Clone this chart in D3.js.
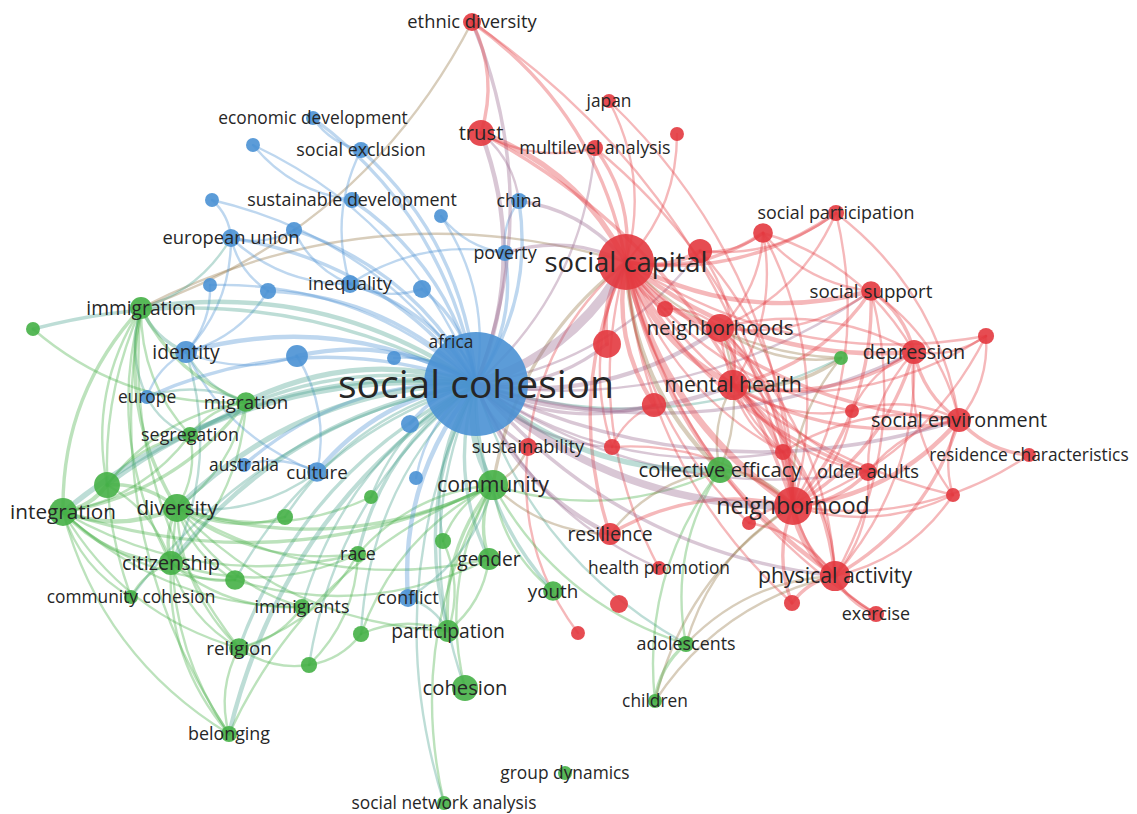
<!DOCTYPE html>
<html>
<head>
<meta charset="utf-8">
<script src="https://cdn.jsdelivr.net/npm/d3@7"></script>
<style>
  body { margin: 0; background: #fff; }
  svg { display: block; }
</style>
</head>
<body>
<div id="map"></div>
<script>
// map coordinates [id, x, y, occurrences]; ids starting with "_" carry no label
const redNodes = [
    ["ethnic diversity", 472, 22, 15], ["trust", 481, 133, 31], ["japan", 609, 101, 9],
    ["_r1", 677, 134, 9], ["multilevel analysis", 595, 148, 12], ["social capital", 626, 262, 145],
    ["_r2", 700, 251, 27], ["_r3", 763, 233, 18], ["social participation", 836, 213, 12],
    ["social support", 871, 291, 18], ["neighborhoods", 720, 328, 36], ["_r4", 665, 309, 12],
    ["_r5", 607, 344, 36], ["depression", 914, 352, 27], ["_r6", 986, 336, 12],
    ["mental health", 733, 385, 42], ["_r7", 654, 405, 27], ["_r8", 852, 411, 9],
    ["social environment", 959, 420, 27], ["residence characteristics", 1029, 455, 9],
    ["sustainability", 528, 447, 15], ["_r9", 612, 447, 12], ["_r10", 783, 452, 12],
    ["older adults", 868, 472, 15], ["neighborhood", 793, 506, 67], ["_r11", 749, 523, 9],
    ["_r12", 953, 495, 9], ["resilience", 610, 534, 22], ["health promotion", 659, 568, 9],
    ["physical activity", 835, 576, 42], ["_r13", 792, 603, 12], ["exercise", 876, 614, 12],
    ["_r14", 619, 604, 15], ["_r15", 578, 633, 9]
];

const greenNodes = [
    ["immigration", 141, 308, 22], ["_g1", 33, 329, 9], ["migration", 246, 402, 18],
    ["segregation", 190, 435, 12], ["_g2", 107, 485, 31], ["integration", 63, 512, 36],
    ["diversity", 177, 508, 36], ["_g3", 285, 517, 12], ["_g4", 371, 497, 9],
    ["community", 493, 485, 42], ["citizenship", 171, 563, 27], ["_g5", 235, 580, 18],
    ["race", 358, 554, 12], ["_g6", 443, 541, 12], ["gender", 489, 559, 22],
    ["community cohesion", 131, 597, 9], ["immigrants", 302, 607, 12], ["_g7", 361, 634, 12],
    ["participation", 448, 631, 22], ["youth", 553, 591, 18], ["religion", 239, 648, 18],
    ["_g8", 309, 665, 12], ["cohesion", 465, 688, 31], ["belonging", 229, 734, 12],
    ["group dynamics", 565, 773, 9], ["social network analysis", 444, 803, 9],
    ["collective efficacy", 720, 470, 31], ["_g9", 841, 358, 9],
    ["adolescents", 686, 644, 12], ["children", 655, 701, 9]
];

const blueNodes = [
    ["social cohesion", 476, 384, 500], ["economic development", 313, 118, 9], ["_b1", 253, 145, 9],
    ["social exclusion", 361, 150, 12], ["_b2", 212, 200, 9], ["sustainable development", 352, 200, 12],
    ["_b3", 294, 230, 12], ["european union", 231, 238, 15], ["_b4", 441, 216, 9],
    ["china", 519, 201, 12], ["poverty", 505, 253, 12], ["inequality", 350, 284, 15],
    ["_b5", 268, 291, 12], ["_b6", 210, 285, 9], ["_b7", 422, 289, 15],
    ["identity", 186, 352, 22], ["_b8", 297, 356, 22], ["africa", 451, 342, 9],
    ["_b9", 394, 358, 9], ["europe", 147, 397, 9], ["_b10", 410, 424, 15],
    ["australia", 244, 465, 9], ["culture", 317, 472, 18], ["_b11", 416, 478, 9],
    ["conflict", 408, 598, 15]
];

// co-occurrence links [source, target, strength]
const hubLinks = [
    ["social cohesion", "social capital", 8], ["social cohesion", "neighborhood", 6],
    ["social cohesion", "community", 5], ["social cohesion", "integration", 4],
    ["social cohesion", "diversity", 4], ["social cohesion", "migration", 4],
    ["social cohesion", "collective efficacy", 4], ["social cohesion", "immigration", 3],
    ["social cohesion", "identity", 3], ["social cohesion", "_b8", 3],
    ["social cohesion", "culture", 3], ["social cohesion", "conflict", 3],
    ["social cohesion", "_g2", 3], ["social cohesion", "citizenship", 3],
    ["social cohesion", "participation", 2], ["social cohesion", "belonging", 3],
    ["social cohesion", "trust", 3], ["social cohesion", "neighborhoods", 3],
    ["social cohesion", "mental health", 3], ["social cohesion", "resilience", 3],
    ["social cohesion", "inequality", 2], ["social cohesion", "european union", 2],
    ["social cohesion", "sustainable development", 2], ["social cohesion", "social exclusion", 2],
    ["social cohesion", "economic development", 2], ["social cohesion", "_b1", 1],
    ["social cohesion", "_b2", 1], ["social cohesion", "_b3", 2], ["social cohesion", "_b4", 1],
    ["social cohesion", "china", 2], ["social cohesion", "poverty", 2], ["social cohesion", "_b5", 2],
    ["social cohesion", "_b6", 1], ["social cohesion", "_b7", 2], ["social cohesion", "africa", 1],
    ["social cohesion", "_b9", 1], ["social cohesion", "europe", 2], ["social cohesion", "_b10", 2],
    ["social cohesion", "australia", 2], ["social cohesion", "_b11", 1],
    ["social cohesion", "segregation", 2], ["social cohesion", "_g1", 2], ["social cohesion", "_g3", 1],
    ["social cohesion", "_g4", 1], ["social cohesion", "_g5", 1], ["social cohesion", "race", 2],
    ["social cohesion", "_g6", 1], ["social cohesion", "gender", 2],
    ["social cohesion", "community cohesion", 1], ["social cohesion", "immigrants", 1],
    ["social cohesion", "_g7", 1], ["social cohesion", "youth", 2], ["social cohesion", "religion", 2],
    ["social cohesion", "_g8", 1], ["social cohesion", "cohesion", 1],
    ["social cohesion", "social network analysis", 1], ["social cohesion", "_g9", 1],
    ["social cohesion", "adolescents", 1], ["social cohesion", "ethnic diversity", 2],
    ["social cohesion", "_r5", 2], ["social cohesion", "_r7", 2], ["social cohesion", "sustainability", 2],
    ["social cohesion", "physical activity", 2], ["social cohesion", "depression", 2],
    ["social cohesion", "social support", 1], ["social cohesion", "social environment", 2],
    ["social cohesion", "older adults", 1], ["social cohesion", "_r9", 1], ["social cohesion", "_r10", 1],
    ["social cohesion", "_r2", 1], ["social cohesion", "multilevel analysis", 1],
    ["social cohesion", "health promotion", 1]
];

const redLinks = [
    ["social capital", "trust", 4], ["social capital", "ethnic diversity", 2], ["social capital", "japan", 1],
    ["social capital", "_r1", 1], ["social capital", "multilevel analysis", 2], ["social capital", "_r2", 3],
    ["social capital", "_r3", 2], ["social capital", "social participation", 2],
    ["social capital", "social support", 3], ["social capital", "neighborhoods", 4],
    ["social capital", "_r4", 2], ["social capital", "_r5", 3], ["social capital", "depression", 3],
    ["social capital", "_r6", 1], ["social capital", "mental health", 4], ["social capital", "_r7", 3],
    ["social capital", "_r8", 1], ["social capital", "social environment", 2],
    ["social capital", "sustainability", 1], ["social capital", "_r9", 1], ["social capital", "_r10", 1],
    ["social capital", "older adults", 2], ["social capital", "neighborhood", 5],
    ["social capital", "_r11", 1], ["social capital", "_r12", 1], ["social capital", "resilience", 2],
    ["social capital", "physical activity", 3], ["social capital", "_r13", 1],
    ["social capital", "exercise", 1], ["social capital", "china", 2], ["social capital", "poverty", 2],
    ["social capital", "collective efficacy", 3], ["social capital", "community", 2],
    ["social capital", "_g9", 1], ["social capital", "immigration", 1],
    ["social capital", "health promotion", 1],
    ["neighborhood", "neighborhoods", 3], ["neighborhood", "mental health", 3],
    ["neighborhood", "physical activity", 5], ["neighborhood", "depression", 2],
    ["neighborhood", "social environment", 3], ["neighborhood", "older adults", 2],
    ["neighborhood", "social support", 2], ["neighborhood", "_r2", 1], ["neighborhood", "_r3", 1],
    ["neighborhood", "_r10", 2], ["neighborhood", "_r11", 1], ["neighborhood", "_r12", 1],
    ["neighborhood", "_r13", 2], ["neighborhood", "exercise", 1],
    ["neighborhood", "collective efficacy", 3], ["neighborhood", "social participation", 1],
    ["neighborhood", "_r6", 1], ["neighborhood", "residence characteristics", 1],
    ["neighborhood", "_r8", 1], ["neighborhood", "adolescents", 1], ["neighborhood", "children", 1],
    ["neighborhood", "trust", 2], ["neighborhood", "ethnic diversity", 1], ["neighborhood", "japan", 1],
    ["neighborhood", "multilevel analysis", 1], ["neighborhood", "resilience", 2],
    ["neighborhood", "_r9", 1],
    ["physical activity", "exercise", 2], ["physical activity", "_r13", 2],
    ["physical activity", "mental health", 2], ["physical activity", "neighborhoods", 1],
    ["physical activity", "older adults", 1], ["physical activity", "social environment", 2],
    ["physical activity", "depression", 1], ["physical activity", "_r11", 1],
    ["physical activity", "adolescents", 1], ["physical activity", "children", 1],
    ["physical activity", "_r10", 1], ["physical activity", "_r12", 1],
    ["physical activity", "social support", 1],
    ["mental health", "depression", 2], ["mental health", "social support", 2],
    ["mental health", "social environment", 2], ["mental health", "neighborhoods", 2],
    ["mental health", "_r3", 1], ["mental health", "_r2", 1], ["mental health", "_r10", 1],
    ["mental health", "older adults", 1], ["mental health", "_r8", 1], ["mental health", "_g9", 2],
    ["mental health", "_r6", 1], ["mental health", "collective efficacy", 1],
    ["depression", "social support", 2], ["depression", "social environment", 2],
    ["depression", "_r6", 1], ["depression", "older adults", 1], ["depression", "_r12", 1],
    ["depression", "_r8", 1], ["depression", "neighborhoods", 1], ["depression", "_r3", 1],
    ["social environment", "residence characteristics", 2], ["social environment", "_r6", 1],
    ["social environment", "_r12", 1], ["social environment", "social support", 1],
    ["social environment", "_r8", 1], ["social environment", "older adults", 1],
    ["social environment", "_r10", 1], ["social environment", "social participation", 1],
    ["neighborhoods", "social support", 1], ["neighborhoods", "_r3", 1],
    ["neighborhoods", "social participation", 1], ["neighborhoods", "older adults", 1],
    ["neighborhoods", "_r4", 1], ["neighborhoods", "_r10", 1], ["neighborhoods", "_g9", 1],
    ["trust", "ethnic diversity", 2], ["trust", "multilevel analysis", 1],
    ["immigration", "ethnic diversity", 1], ["sustainability", "_r15", 1], ["_r7", "_r9", 1],
    ["_r2", "social participation", 1], ["_r3", "social support", 1], ["_r2", "_r3", 1]
];

const greenLinks = [
    ["immigration", "identity", 2], ["immigration", "migration", 2], ["immigration", "integration", 2],
    ["immigration", "diversity", 2], ["immigration", "citizenship", 1], ["immigration", "segregation", 1],
    ["immigration", "europe", 1], ["immigration", "_g2", 1], ["immigration", "community cohesion", 1],
    ["immigration", "belonging", 1], ["immigration", "religion", 1], ["immigration", "european union", 1],
    ["_g1", "migration", 1],
    ["integration", "_g2", 3], ["integration", "diversity", 3], ["integration", "citizenship", 2],
    ["integration", "migration", 2], ["integration", "segregation", 1],
    ["integration", "community cohesion", 1], ["integration", "religion", 1],
    ["integration", "belonging", 1], ["integration", "immigrants", 1], ["integration", "community", 2],
    ["integration", "_g5", 1], ["integration", "race", 1],
    ["diversity", "_g2", 2], ["diversity", "citizenship", 2], ["diversity", "migration", 1],
    ["diversity", "segregation", 1], ["diversity", "religion", 1], ["diversity", "immigrants", 1],
    ["diversity", "race", 1], ["diversity", "community", 2], ["diversity", "_g3", 1],
    ["diversity", "_g5", 1], ["diversity", "gender", 1], ["diversity", "belonging", 1],
    ["diversity", "participation", 1], ["diversity", "_g4", 1], ["diversity", "culture", 1],
    ["citizenship", "community cohesion", 1], ["citizenship", "religion", 1],
    ["citizenship", "belonging", 1], ["citizenship", "_g5", 1], ["citizenship", "migration", 1],
    ["citizenship", "identity", 1], ["citizenship", "immigrants", 1], ["citizenship", "race", 1],
    ["citizenship", "_g2", 1],
    ["community", "gender", 2], ["community", "participation", 2], ["community", "youth", 1],
    ["community", "cohesion", 1], ["community", "race", 1], ["community", "_g6", 1],
    ["community", "social network analysis", 1], ["community", "collective efficacy", 1],
    ["community", "belonging", 1], ["community", "_g7", 1], ["community", "sustainability", 1],
    ["community", "resilience", 1], ["community", "adolescents", 1],
    ["participation", "gender", 1], ["participation", "_g6", 1], ["participation", "_g7", 1],
    ["participation", "conflict", 1],
    ["religion", "_g8", 1], ["religion", "belonging", 1], ["religion", "race", 1],
    ["religion", "immigrants", 1], ["_g8", "_g7", 1], ["_g8", "race", 1], ["_g5", "gender", 1],
    ["adolescents", "children", 2], ["collective efficacy", "neighborhoods", 1],
    ["collective efficacy", "resilience", 1], ["collective efficacy", "adolescents", 1],
    ["collective efficacy", "children", 1], ["_g9", "neighborhood", 1],
    ["migration", "segregation", 1], ["migration", "_g2", 1], ["migration", "europe", 1],
    ["segregation", "_g2", 1]
];

const blueLinks = [
    ["identity", "european union", 1], ["identity", "_b6", 1], ["identity", "_b5", 1],
    ["identity", "europe", 1], ["identity", "migration", 1], ["identity", "_b8", 1],
    ["identity", "culture", 1], ["european union", "_b2", 1], ["european union", "_b3", 1],
    ["european union", "_b5", 1], ["european union", "inequality", 1], ["_b3", "inequality", 1],
    ["economic development", "social exclusion", 1], ["_b1", "sustainable development", 1],
    ["social exclusion", "inequality", 1], ["europe", "segregation", 1],
    ["culture", "australia", 1], ["culture", "_b8", 1], ["conflict", "community", 1],
    ["china", "poverty", 1], ["poverty", "inequality", 1], ["china", "trust", 1],
    ["inequality", "_b7", 1], ["_b4", "poverty", 1]
];

const width = 1137, height = 814;

const x = d3.scaleLinear().domain([0, 1137]).range([0, width]);
const y = d3.scaleLinear().domain([0, 814]).range([0, height]);
const radius = d3.scaleSqrt().domain([0, 500]).range([0, 52]);
const fontSize = d3.scaleSqrt().domain([0, 500]).range([14, 39]);
const strokeWidth = d3.scaleLinear().domain([1, 8]).range([2.4, 9.5]);
const clusterColor = d3.scaleOrdinal()
    .domain(["red", "green", "blue"])
    .range(["#e3393f", "#45b046", "#4a91d4"]);

const toNode = cluster => d => ({ id: d[0], label: d[0].startsWith("_") ? "" : d[0], mx: d[1], my: d[2], w: d[3], cluster });
const nodes = [
    ...redNodes.map(toNode("red")),
    ...greenNodes.map(toNode("green")),
    ...blueNodes.map(toNode("blue"))
];
const byId = new Map(nodes.map(d => [d.id, d]));

const links = [...hubLinks, ...redLinks, ...greenLinks, ...blueLinks]
    .map(l => ({ s: byId.get(l[0]), t: byId.get(l[1]), w: l[2] }))
    .filter(l => l.s && l.t)
    .sort((a, b) => a.w - b.w);

const svg = d3.select("#map").append("svg")
    .attr("width", width)
    .attr("height", height);

// curved links, bent to one side like the original map
const linkPath = l => {
    const x1 = x(l.s.mx), y1 = y(l.s.my), x2 = x(l.t.mx), y2 = y(l.t.my);
    const dx = x2 - x1, dy = y2 - y1;
    const k = 0.2;
    const cx = (x1 + x2) / 2 - dy * k;
    const cy = (y1 + y2) / 2 + dx * k;
    return `M${x1},${y1}Q${cx},${cy} ${x2},${y2}`;
};

svg.append("g")
    .selectAll("path")
    .data(links)
    .join("path")
    .attr("d", linkPath)
    .attr("fill", "none")
    .attr("stroke", l => d3.interpolateRgb(clusterColor(l.s.cluster), clusterColor(l.t.cluster))(0.5))
    .attr("stroke-opacity", 0.36)
    .attr("stroke-width", l => strokeWidth(l.w))
    .attr("stroke-linecap", "round");

svg.append("g")
    .selectAll("circle")
    .data(nodes)
    .join("circle")
    .attr("cx", d => x(d.mx))
    .attr("cy", d => y(d.my))
    .attr("r", d => radius(d.w))
    .attr("fill", d => clusterColor(d.cluster))
    .attr("fill-opacity", 0.9);

svg.append("g")
    .selectAll("text")
    .data(nodes.filter(d => d.label))
    .join("text")
    .attr("x", d => x(d.mx))
    .attr("y", d => y(d.my))
    .attr("dy", "0.35em")
    .attr("text-anchor", "middle")
    .style("font-family", "'Open Sans', 'Noto Sans', sans-serif")
    .style("font-size", d => `${fontSize(d.w)}px`)
    .style("fill", "#262626")
    .text(d => d.label);
</script>
</body>
</html>
